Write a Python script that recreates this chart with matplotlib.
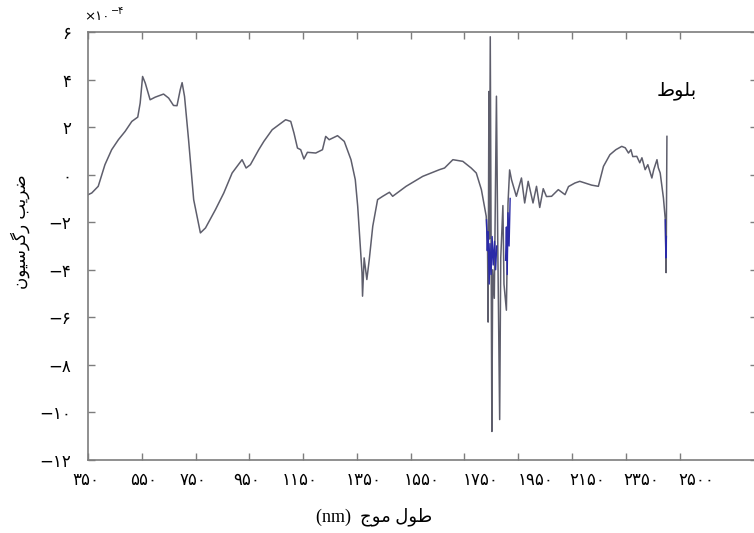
import matplotlib
matplotlib.use("Agg")
import matplotlib.pyplot as plt
from matplotlib.transforms import ScaledTranslation

# regression coefficients (x1e-4), wavelength in nm
wl = [351, 364, 388, 413, 438, 463, 488, 513, 535, 544, 553, 563, 581, 600, 631,
      650, 668, 681, 693, 700, 709, 724, 743, 768, 787, 824, 855, 886, 923, 938,
      954, 985, 1004, 1035, 1085, 1104, 1116, 1129, 1141, 1153, 1166, 1197, 1222,
      1234, 1247, 1278, 1303, 1328, 1344, 1353, 1361, 1369, 1371, 1377, 1387,
      1396, 1409, 1427, 1446, 1471, 1483, 1533, 1595, 1657, 1676, 1707, 1744,
      1775, 1794, 1813, 1831, 1836, 1838, 1841, 1843, 1846, 1852, 1855, 1861,
      1869, 1874, 1881, 1885, 1893, 1897, 1906, 1912, 1918, 1925, 1943, 1962,
      1974, 1987, 2005, 2018, 2030, 2043, 2055, 2074, 2099, 2124, 2137, 2161,
      2179, 2198, 2223, 2248, 2267, 2291, 2313, 2335, 2348, 2360, 2369, 2376,
      2391, 2402, 2410, 2422, 2432, 2447, 2454, 2466, 2471, 2478, 2490, 2497,
      2500, 2503]
coef = [-0.84, -0.77, -0.49, 0.42, 1.05, 1.47, 1.82, 2.24, 2.42, 3.01, 4.13, 3.85,
        3.15, 3.26, 3.39, 3.22, 2.91, 2.90, 3.57, 3.87, 3.29, 1.47, -1.05, -2.45,
        -2.24, -1.47, -0.77, 0.07, 0.63, 0.28, 0.42, 1.05, 1.40, 1.89, 2.31, 2.24,
        1.75, 1.12, 1.05, 0.66, 0.94, 0.91, 1.05, 1.61, 1.47, 1.64, 1.40, 0.63,
        -0.21, -1.33, -2.73, -4.12, -5.11, -3.50, -4.41, -3.57, -2.17, -1.05,
        -0.91, -0.74, -0.91, -0.49, -0.07, 0.21, 0.28, 0.63, 0.56, 0.28, 0.07,
        -0.63, -1.75, -3.15, -6.2, 3.5, -2.7, 5.8, -10.8, -4.0, -5.2, 3.3, -3.0,
        -10.3, -3.5, -1.3, -4.6, -5.7, -1.2, 0.2, -0.21, -0.91, -0.14, -1.19,
        -0.28, -1.19, -0.49, -1.38, -0.59, -0.92, -0.91, -0.63, -0.84, -0.50,
        -0.35, -0.28, -0.35, -0.44, -0.49, 0.35, 0.84, 1.05, 1.19, 1.13, 0.91,
        1.05, 0.76, 0.77, 0.50, 0.71, 0.21, 0.42, -0.14, 0.21, 0.63, 0.29, 0.07,
        -0.98, -1.89, -4.12, 1.61]

# blue traces visible under the noisy parts
blue_a_wl = [1832, 1835, 1838, 1842, 1845, 1849, 1853, 1857, 1862, 1866, 1870]
blue_a_val = [-1.9, -3.2, -2.4, -4.6, -2.9, -4.2, -2.6, -3.8, -2.8, -4.0, -3.0]
blue_b_wl = [1903, 1906, 1909, 1912, 1916, 1920]
blue_b_val = [-3.6, -2.2, -4.2, -1.6, -3.0, -1.0]
blue_c_wl = [2497, 2499, 2501]
blue_c_val = [-1.9, -3.5, -2.6]

xticks = [350, 550, 750, 950, 1150, 1350, 1550, 1750, 1950, 2150, 2350, 2550]
xtick_labels = ["۳۵۰", "۵۵۰", "۷۵۰", "۹۵۰", "۱۱۵۰", "۱۳۵۰", "۱۵۵۰", "۱۷۵۰",
                "۱۹۵۰", "۲۱۵۰", "۲۳۵۰", "۲۵۰۰"]
yticks = [-12, -10, -8, -6, -4, -2, 0, 2, 4, 6]
ytick_labels = ["−۱۲", "−۱۰", "−۸", "−۶", "−۴", "−۲", "۰", "۲", "۴", "۶"]

# label nudges (px) so the Persian labels sit where the original put them
xlabel_shift = [-2, 2, -3, -3, -3, 7, 11, 16, 17, 15, 15, 17]

# Persian strings in visual order with presentation forms (no shaping in mpl)
title_txt = "\uFEC1\uFEEE\uFEE0\uFE91"
ylabel_txt = "\uFEE5\uFEEE\uFBFF\uFEB3\uFEAE\uFB94\uFEAD \uFE90\uFBFE\uFEAE\uFEBF"
xlabel_txt = "(nm)  \uFE9D\uFEEE\uFEE3 \uFEDD\uFEEE\uFEC3"

W, H = 754, 533
fig = plt.figure(figsize=(W / 100, H / 100), dpi=100)
ax = fig.add_axes([88 / W, 73 / H, (757 - 88) / W, (460 - 32) / H])

ax.plot(wl, coef, color="#5e5e6c", lw=1.1)
for bx, by in [(blue_a_wl, blue_a_val), (blue_b_wl, blue_b_val), (blue_c_wl, blue_c_val)]:
    ax.plot(bx, by, color="#2a2aa8", lw=1.0)

ax.set_xlim(350, 2838)
ax.set_ylim(-12, 6)
for s in ax.spines.values():
    s.set_color("#7d7d7d")
    s.set_linewidth(1.2)

ax.set_xticks(xticks)
ax.set_xticklabels(xtick_labels, family="DejaVu Sans", fontsize=12)
ax.set_yticks(yticks)
ax.set_yticklabels(ytick_labels, family="DejaVu Sans", fontsize=12)
ax.tick_params(direction="in", length=5, width=1, color="#7d7d7d",
               top=True, right=True)
ax.tick_params(axis="x", pad=8)
ax.tick_params(axis="y", pad=12)
for lab, dx in zip(ax.get_xticklabels(), xlabel_shift):
    lab.set_transform(lab.get_transform() + ScaledTranslation(dx / 100, 0, fig.dpi_scale_trans))

fig.text(677 / W, 1 - 91 / H, title_txt, family="DejaVu Sans", fontsize=14,
         ha="center", va="center")
fig.text(374 / W, 1 - 517 / H, xlabel_txt, family=["Liberation Serif", "DejaVu Sans"],
         fontsize=13, ha="center", va="center")
fig.text(20 / W, 1 - 232 / H, ylabel_txt, family="DejaVu Sans", fontsize=12,
         rotation=90, ha="center", va="center")
fig.text(84 / W, 1 - 16 / H, "×۱۰", family="DejaVu Sans", fontsize=9.5,
         ha="left", va="center")
fig.text(111 / W, 1 - 11 / H, "−۴", family="DejaVu Sans", fontsize=7,
         ha="left", va="center")

fig.savefig("out.png", dpi=100)
